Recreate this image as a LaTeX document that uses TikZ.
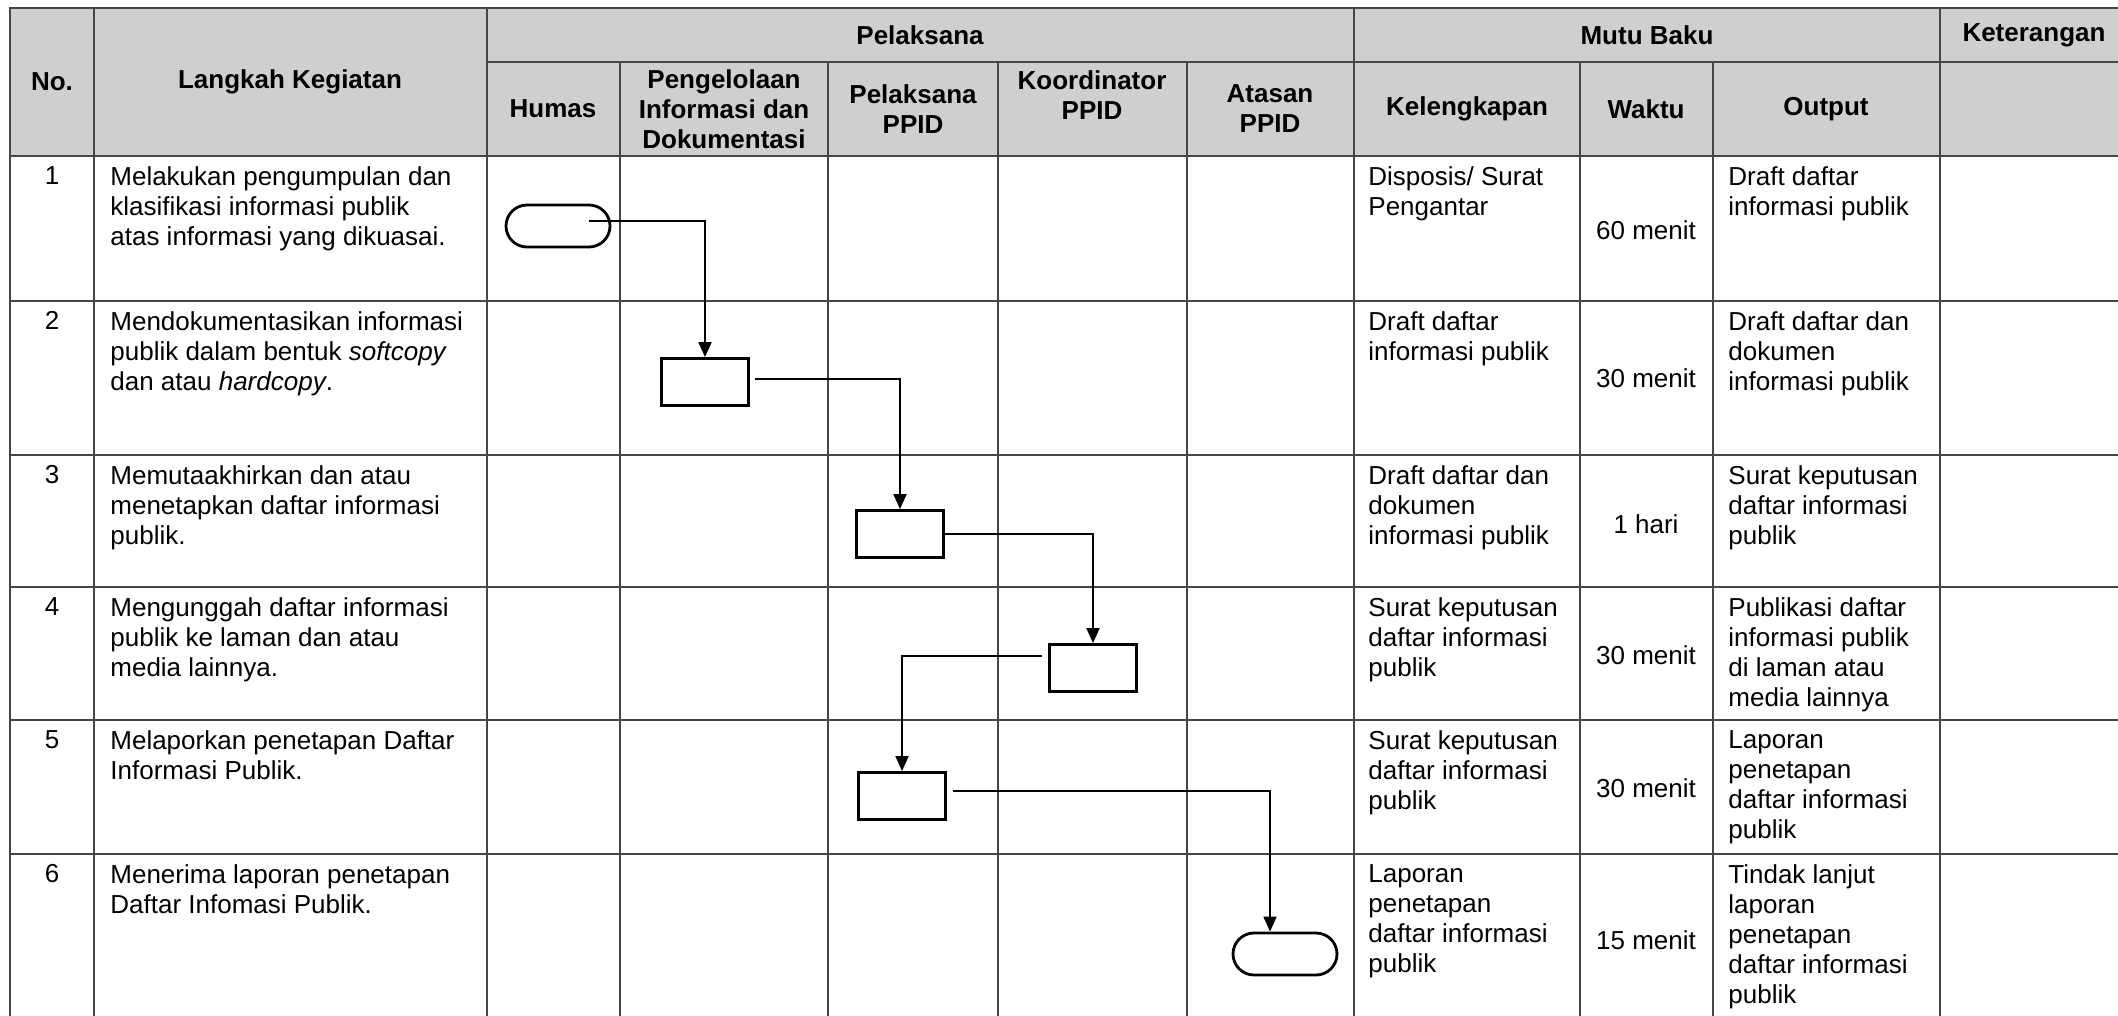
\documentclass[tikz,border=0pt]{standalone}
\usepackage{fontspec}
\setmainfont{Liberation Sans}
\usetikzlibrary{arrows.meta,shapes.misc,positioning}
\definecolor{headgray}{RGB}{208,206,209}
\definecolor{linegray}{RGB}{70,70,70}
% one row of the table: id, text top, waktu y, no, langkah, kelengkapan, waktu, output
\newcommand\baris[8]{\node(no#1)[isi,anchor=north] at (52,#2) {#4};
  \node(lk#1)[isi] at (110,#2) {#5};
  \node(kl#1)[isi] at (1368,#2) {#6};
  \node(wk#1)[isi,anchor=center,align=center] at (1646,#3) {#7};
  \node(op#1)[isi] at (1728,#2) {#8};}

\begin{document}
\begin{tikzpicture}[x=0.5pt,y=-0.5pt,
    grid/.style={draw=linegray,line width=1pt},
    isi/.style={anchor=north west,align=left,inner sep=0pt,font=\fontsize{13pt}{15pt}\selectfont},
    judul/.style={align=center,inner sep=0pt,font=\fontsize{13pt}{15pt}\selectfont\bfseries},
    kotak/.style={draw,line width=1.4pt,minimum width=43.5pt,minimum height=23.5pt,inner sep=0pt},
    terminal/.style={kotak,rounded rectangle,minimum width=52pt,minimum height=21pt},
    alur/.style={line width=0.9pt,-{Triangle[length=7.5pt,width=6.5pt]}}]
    \useasboundingbox (0,0) rectangle (2118,1016);
    \clip (0,0) rectangle (2118,1016);
    % header and grid
    \fill[headgray] (10,8) rectangle (2128,156);
    \draw[grid] (10,8) rectangle (2128,1022);
    \draw[grid] (487,62) -- (2128,62);
    \foreach \y in {156,301,455,587,720,854} \draw[grid] (10,\y) -- (2128,\y);
    \foreach \x in {94,487,1354,1940} \draw[grid] (\x,8) -- (\x,1022);
    \foreach \x in {620,828,998,1187,1580,1713} \draw[grid] (\x,62) -- (\x,1022);

    \node(hno)[judul] at (52,82) {No.};
    \node(hlk)[judul] at (290,82) {Langkah Kegiatan};
    \node(hpl)[judul] at (920,35) {Pelaksana};
    \node(hmb)[judul] at (1647,35) {Mutu Baku};
    \node(hkt)[judul] at (2034,35) {Keterangan};
    \node(hhu)[judul] at (553,109) {Humas};
    \node(hpi)[judul] at (724,109) {Pengelolaan\\Informasi dan\\Dokumentasi};
    \node(hpp)[judul] at (913,109) {Pelaksana\\PPID};
    \node(hko)[judul] at (1092,95) {Koordinator\\PPID};
    \node(hat)[judul] at (1270,109) {Atasan\\PPID};
    \node(hkl)[judul] at (1467,109) {Kelengkapan};
    \node(hwk)[judul] at (1646,109) {Waktu};
    \node(hop)[judul] at (1826,109) {Output};

    \baris{1}{166}{230}{1}{Melakukan pengumpulan dan\\klasifikasi informasi publik\\atas informasi yang dikuasai.}{Disposis/ Surat\\Pengantar}{60 menit}{Draft daftar\\informasi publik}
    \baris{2}{311}{378}{2}{Mendokumentasikan informasi\\publik dalam bentuk \textit{softcopy}\\dan atau \textit{hardcopy}.}{Draft daftar\\informasi publik}{30 menit}{Draft daftar dan\\dokumen\\informasi publik}
    \baris{3}{465}{524}{3}{Memutaakhirkan dan atau\\menetapkan daftar informasi\\publik.}{Draft daftar dan\\dokumen\\informasi publik}{1 hari}{Surat keputusan\\daftar informasi\\publik}
    \baris{4}{597}{655}{4}{Mengunggah daftar informasi\\publik ke laman dan atau\\media lainnya.}{Surat keputusan\\daftar informasi\\publik}{30 menit}{Publikasi daftar\\informasi publik\\di laman atau\\media lainnya}
    \baris{5}{730}{788}{5}{Melaporkan penetapan Daftar\\Informasi Publik.}{Surat keputusan\\daftar informasi\\publik}{30 menit}{Laporan\\penetapan\\daftar informasi\\publik}
    \baris{6}{864}{940}{6}{Menerima laporan penetapan\\Daftar Infomasi Publik.}{Laporan\\penetapan\\daftar informasi\\publik}{15 menit}{Tindak lanjut\\laporan\\penetapan\\daftar informasi\\publik}

    % flow
    \node(t1)[terminal] at (558,226) {};
    \node(b1)[kotak] at (705,382) {};
    \node(b2)[kotak] at (900,534) {};
    \node(b3)[kotak] at (1093,668) {};
    \node(b4)[kotak] at (902,796) {};
    \node(t2)[terminal] at (1285,954) {};

    \draw[alur] ([xshift=15.5pt,yshift=2.5pt]t1.center) -| (b1.north);
    \draw[alur] ([xshift=2.5pt,yshift=1.5pt]b1.east) -| (b2.north);
    \draw[alur] (b2.east) -| (b3.north);
    \draw[alur] ([xshift=-3pt,yshift=6pt]b3.west) -| (b4.north);
    \draw[alur] ([xshift=3pt,yshift=2.5pt]b4.east) -| ([xshift=-7.5pt]t2.north);
\end{tikzpicture}
\end{document}
